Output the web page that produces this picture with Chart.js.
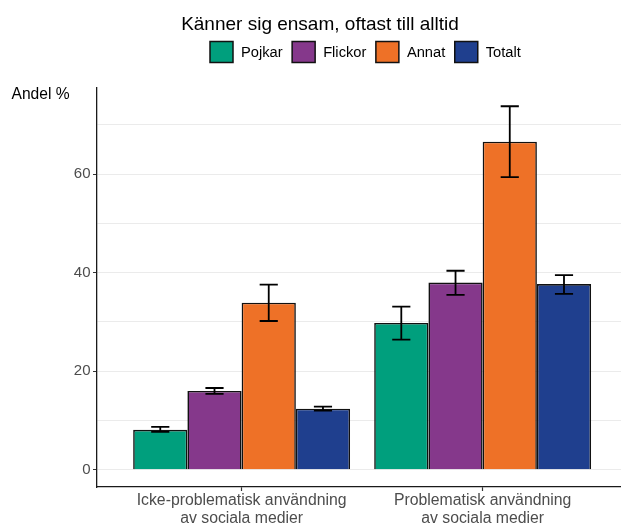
<!DOCTYPE html>
<html>
<head>
<meta charset="utf-8">
<script src="https://cdn.jsdelivr.net/npm/chart.js@4/dist/chart.umd.min.js"></script>
<style>
  html, body { margin: 0; padding: 0; background: #ffffff; }
  #wrap { width: 621px; height: 525px; overflow: hidden; }
</style>
</head>
<body>
<div id="wrap"><canvas id="c" width="621" height="525"></canvas></div>
<script>
// Groups along the x axis (numeric positions 1 and 2) and their labels
const groupPos = [1, 2];
const groupLabels = [
  ['Icke-problematisk användning', 'av sociala medier'],
  ['Problematisk användning', 'av sociala medier']
];

// Series: share (%) with lower / upper confidence limits
const seriesNames = ['Pojkar', 'Flickor', 'Annat', 'Totalt'];
const pojkar  = [8.1, 29.8];
const flickor = [16.0, 38.0];
const annat   = [33.9, 66.6];
const totalt  = [12.4, 37.7];

const pojkarLo  = [7.7, 26.4],  pojkarHi  = [8.7, 33.1];
const flickorLo = [15.4, 35.5], flickorHi = [16.6, 40.4];
const annatLo   = [30.2, 59.4], annatHi   = [37.6, 73.8];
const totaltLo  = [12.0, 35.7], totaltHi  = [12.8, 39.5];

const yTicks = [0, 10, 20, 30, 40, 50, 60, 70];

const colors = ['#009F7D', '#85388B', '#EE7127', '#1F3F8E'];
const values = [pojkar, flickor, annat, totalt];
const lows   = [pojkarLo, flickorLo, annatLo, totaltLo];
const highs  = [pojkarHi, flickorHi, annatHi, totaltHi];

const FONT = "'Liberation Sans', Arial, Helvetica, sans-serif";
Chart.defaults.font.family = FONT;

// Title, legend, y-axis caption and error bars
const decor = {
  id: 'decor',
  afterDatasetsDraw(chart) {
    const ctx = chart.ctx;
    const yScale = chart.scales.y;
    ctx.save();
    ctx.strokeStyle = '#000000';
    ctx.lineWidth = 1.8;
    chart.data.datasets.forEach((ds, i) => {
      const meta = chart.getDatasetMeta(i);
      meta.data.forEach((bar, j) => {
        const x = bar.x;
        const half = bar.width * 0.335 / 2;
        const yl = yScale.getPixelForValue(lows[i][j]);
        const yh = yScale.getPixelForValue(highs[i][j]);
        ctx.beginPath();
        ctx.moveTo(x, yl); ctx.lineTo(x, yh);
        ctx.moveTo(x - half, yl); ctx.lineTo(x + half, yl);
        ctx.moveTo(x - half, yh); ctx.lineTo(x + half, yh);
        ctx.stroke();
      });
    });
    ctx.restore();
  },
  afterDraw(chart) {
    const ctx = chart.ctx;
    ctx.save();
    // Title
    ctx.fillStyle = '#000000';
    ctx.font = '19px ' + FONT;
    ctx.textAlign = 'center';
    ctx.textBaseline = 'alphabetic';
    ctx.fillText('Känner sig ensam, oftast till alltid', 320, 30);

    // Legend
    ctx.font = '14.7px ' + FONT;
    ctx.textAlign = 'left';
    ctx.textBaseline = 'middle';
    let x = 210;
    const boxW = 23, boxH = 21, boxTop = 41.5;
    seriesNames.forEach((name, i) => {
      ctx.fillStyle = colors[i];
      ctx.fillRect(x, boxTop, boxW, boxH);
      ctx.strokeStyle = '#111111';
      ctx.lineWidth = 1.5;
      ctx.strokeRect(x, boxTop, boxW, boxH);
      ctx.fillStyle = '#000000';
      const tx = x + boxW + 8;
      ctx.fillText(name, tx, boxTop + boxH / 2 + 0.5);
      x = tx + ctx.measureText(name).width + 9.5;
    });

    // Y-axis caption
    ctx.font = '15.6px ' + FONT;
    ctx.fillStyle = '#000000';
    ctx.textAlign = 'left';
    ctx.fillText('Andel %', 11.5, 95);
    ctx.restore();
  }
};

const datasets = seriesNames.map((name, i) => ({
  label: name,
  data: groupPos.map((p, j) => ({ x: p, y: values[i][j] })),
  backgroundColor: colors[i],
  borderColor: '#111111',
  borderWidth: 1.6,
  categoryPercentage: 0.9,
  barPercentage: 1.0
}));

new Chart(document.getElementById('c'), {
  type: 'bar',
  data: { datasets },
  options: {
    responsive: false,
    animation: false,
    layout: { padding: { top: 88, left: 0, right: 0, bottom: 0 } },
    plugins: { legend: { display: false }, title: { display: false }, tooltip: { enabled: false } },
    scales: {
      x: {
        type: 'linear',
        min: 0.4,
        max: 2.574,
        offset: false,
        afterBuildTicks: s => { s.ticks = groupPos.map(v => ({ value: v })); },
        afterFit: s => { s.height = 38; },
        grid: { offset: false, drawOnChartArea: false, drawTicks: true, tickLength: 4, tickColor: '#333333', tickWidth: 1.2 },
        border: { display: true, color: '#1a1a1a', width: 1.3 },
        ticks: {
          callback: (v, idx) => groupLabels[idx],
          color: '#4d4d4d',
          font: { size: 15.8, lineHeight: 1.12 },
          padding: 1,
          maxRotation: 0,
          autoSkip: false
        }
      },
      y: {
        min: -3.5,
        max: 77.5,
        afterBuildTicks: s => { s.ticks = yTicks.map(v => ({ value: v })); },
        afterFit: s => { s.width = 97; },
        grid: {
          offset: false,
          color: '#ebebeb',
          lineWidth: 1,
          drawTicks: true,
          tickLength: 4,
          tickColor: c => (c.tick && c.tick.value % 20 === 0) ? '#333333' : 'rgba(0,0,0,0)'
        },
        border: { display: true, color: '#1a1a1a', width: 1.3 },
        ticks: {
          callback: v => (v % 20 === 0 ? String(v) : ''),
          color: '#4d4d4d',
          font: { size: 15 },
          padding: 2.5
        }
      }
    }
  },
  plugins: [decor]
});
</script>
</body>
</html>
